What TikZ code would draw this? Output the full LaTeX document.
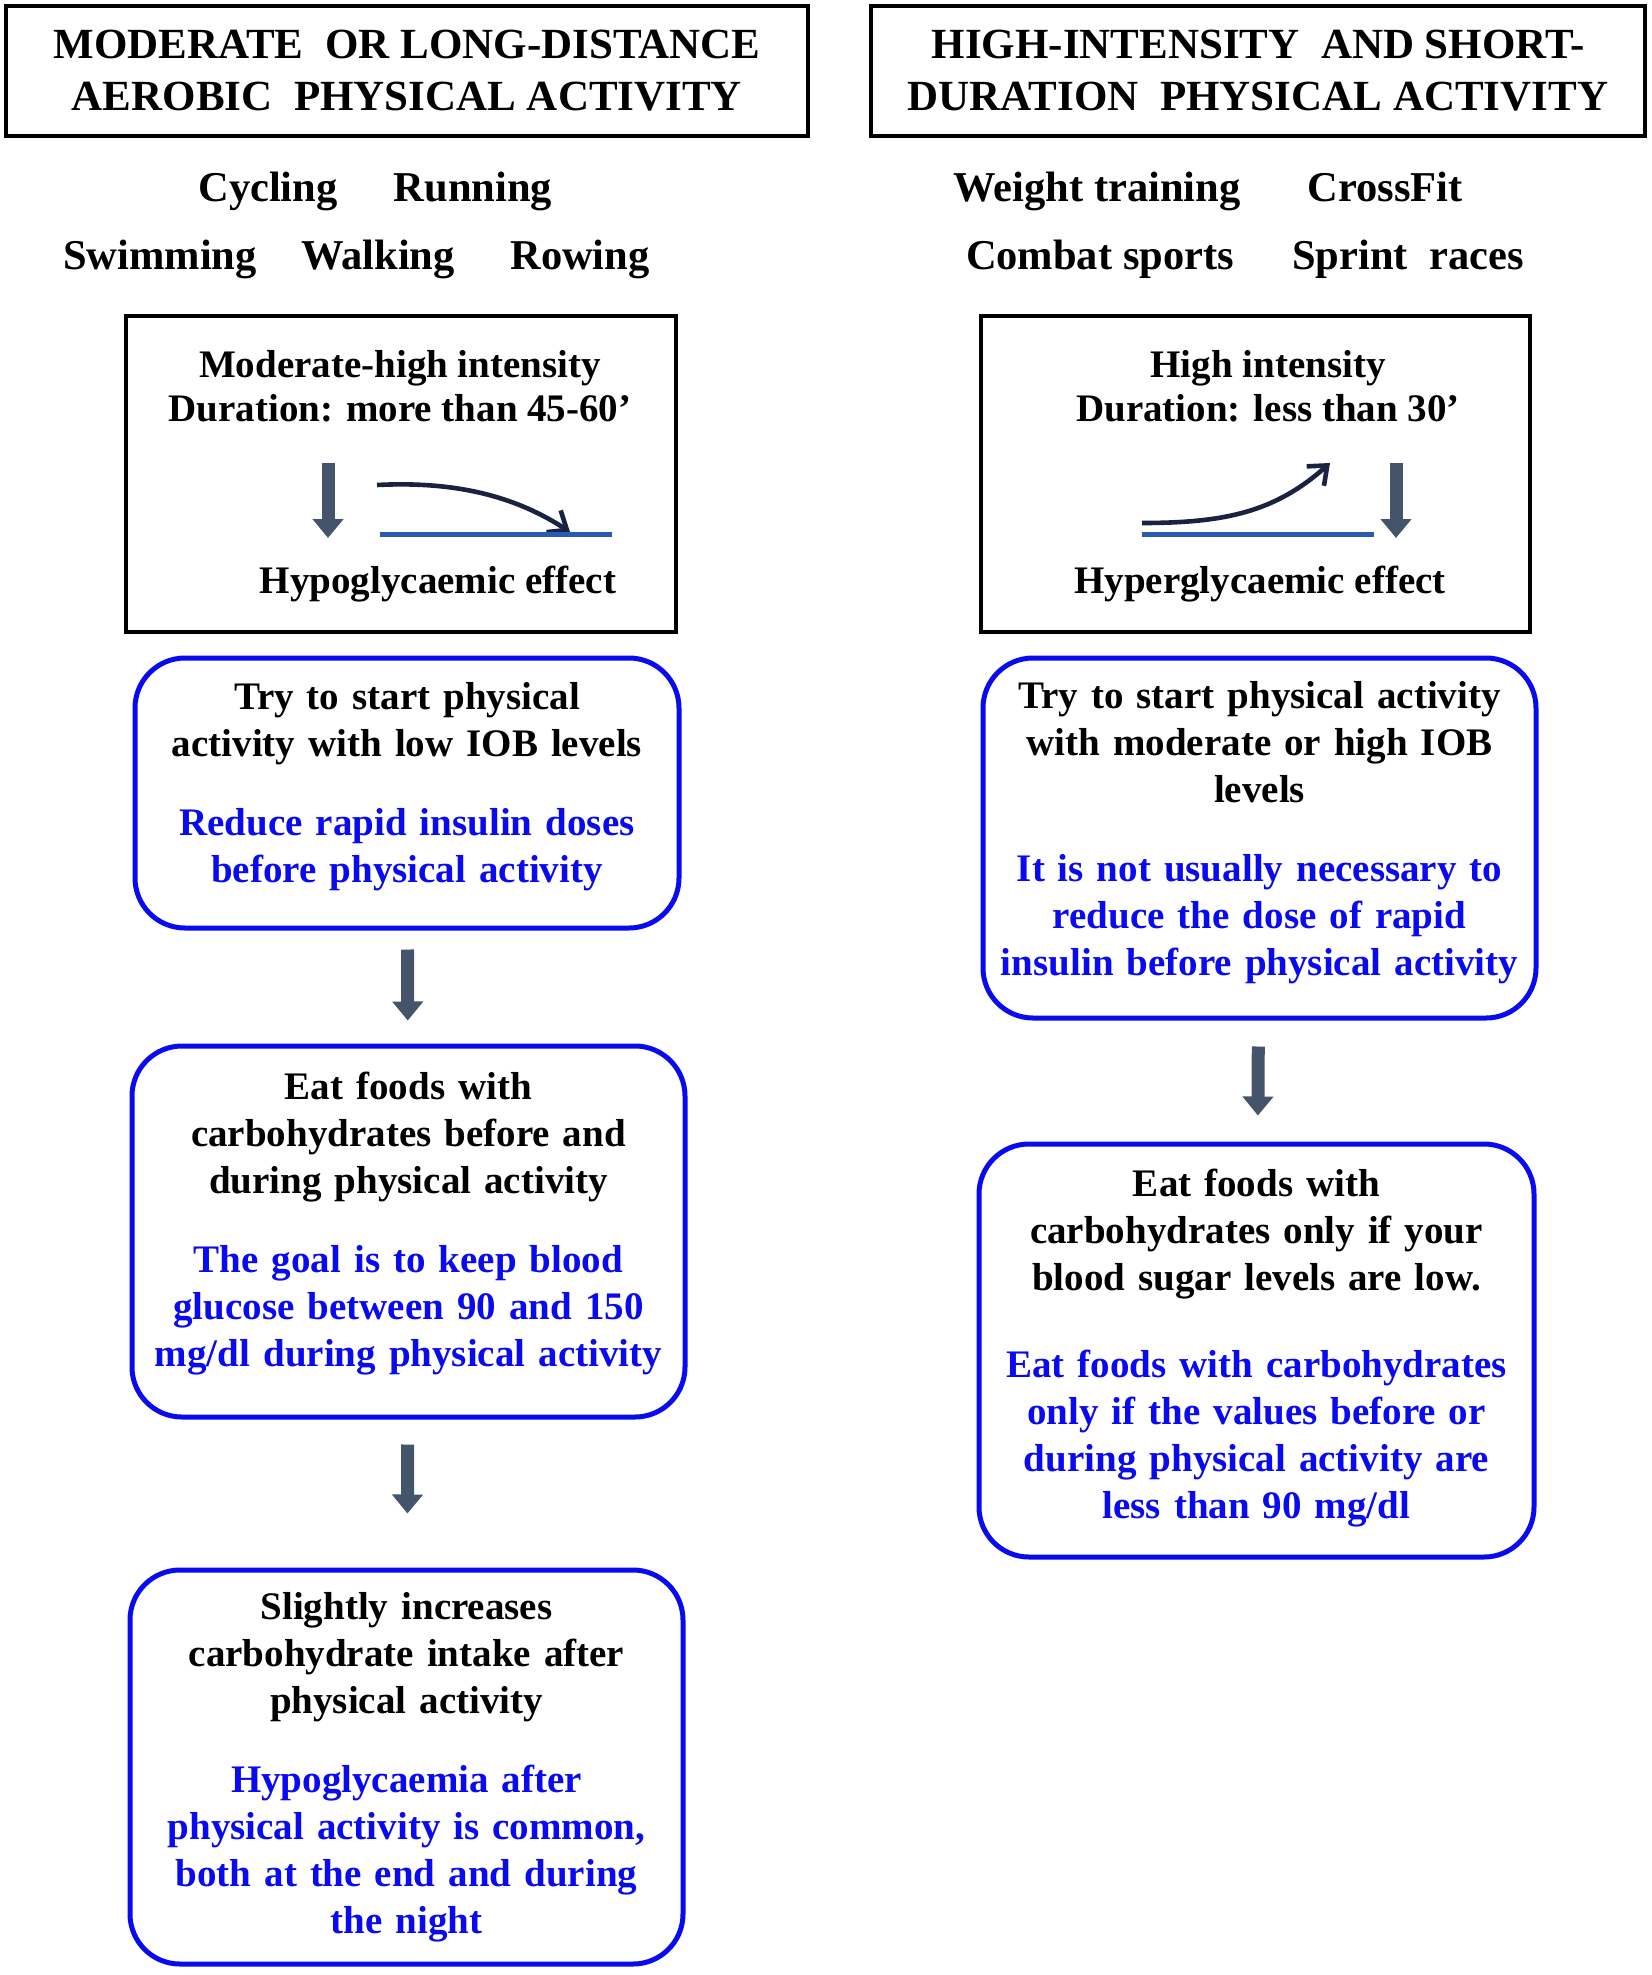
\documentclass[tikz,border=0pt]{standalone}
\usepackage{fontspec}
\setmainfont{Liberation Serif}
\usetikzlibrary{arrows.meta}

\definecolor{advblue}{RGB}{10,10,240}
\definecolor{flowgrey}{RGB}{68,84,106}
\definecolor{curvenavy}{RGB}{25,35,65}
\definecolor{levelblue}{RGB}{40,90,180}

\tikzset{every picture/.style={line width=0.75pt},
  titlebox/.style={draw, line width=2pt, minimum height=65pt, align=center, inner sep=0pt,
    font=\bfseries\fontsize{21.5}{26}\selectfont},
  sport/.style={anchor=base, inner sep=0pt, font=\bfseries\fontsize{21.25}{25}\selectfont},
  effectbox/.style={draw, line width=2pt, minimum width=275pt, minimum height=158pt, inner sep=0pt},
  effecttext/.style={align=center, inner sep=0pt, font=\bfseries\fontsize{19.5}{22}\selectfont},
  advicebox/.style={draw=advblue, line width=2.5pt, rounded corners=25pt, align=center,
    text width=268pt, inner sep=0pt, minimum width=276.5pt,
    font=\bfseries\fontsize{19.5}{23.5}\selectfont},
  stepflow/.style={draw=flowgrey, line width=6.5pt, -{Triangle[width=15pt,length=9.5pt]}},
  curvearrow/.style={draw=curvenavy, line width=2.3pt, -{Straight Barb[length=8pt,width=13pt]}},
  glucoseline/.style={draw=levelblue, line width=2.5pt}
}

\begin{document}
\begin{tikzpicture}[x=0.5pt,y=0.5pt,yscale=-1,xscale=1]
\useasboundingbox (0,0) rectangle (1652,1975);

% Title Boxes
\node[titlebox, minimum width=401pt] (aerobictitle) at (407,71) {MODERATE\ \ OR LONG-DISTANCE\\AEROBIC\ \ PHYSICAL ACTIVITY};
\node[titlebox, minimum width=387pt] (intensetitle) at (1258,71) {HIGH-INTENSITY\ \ AND SHORT-\\DURATION\ \ PHYSICAL ACTIVITY};

% Sports
\node[sport] (cycling) at (268,201) {Cycling};
\node[sport] (running) at (473,201) {Running};
\node[sport] (swimming) at (160,269) {Swimming};
\node[sport] (walking) at (378,269) {Walking};
\node[sport] (rowing) at (580,269) {Rowing};
\node[sport] (weights) at (1097,201) {Weight training};
\node[sport] (crossfit) at (1385,201) {CrossFit};
\node[sport] (combat) at (1100,269) {Combat sports};
\node[sport] (sprint) at (1408,269) {Sprint\ \ races};

% Effect Boxes
\node[effectbox] (aerobiceffect) at (401,474) {};
\node[effectbox, minimum width=274.5pt] (intenseeffect) at (1255.5,474) {};
\node[effecttext] (aerobicload) at (400,386) {Moderate-high intensity\\Duration: more than 45-60’};
\node[effecttext] (aerobicresult) at (438,584) {Hypoglycaemic effect};
\node[effecttext] (intenseload) at (1268,386) {High intensity\\Duration: less than 30’};
\node[effecttext] (intenseresult) at (1260,584) {Hyperglycaemic effect};

%Shape: glucose icons
\draw[stepflow] (328,463) -- (328,538);
\draw[curvearrow] (377,485) .. controls (455,481) and (515,496) .. (570,532);
\draw[glucoseline] (380,534) -- (612,534);
\draw[curvearrow] (1142,523) .. controls (1225,523) and (1275,512) .. (1330,463);
\draw[glucoseline] (1142,534) -- (1374,534);
\draw[stepflow] (1396,463) -- (1396,538);

% Advice Boxes
\node[advicebox, minimum width=272pt, minimum height=135pt] (aerobicstart) at (407,793) {Try to start physical\\activity with low IOB levels\\[16pt]\color{advblue}Reduce rapid insulin doses\\before physical activity\par\vspace*{6pt}};
\node[advicebox, minimum height=185.5pt] (aerobicfood) at (408.5,1231.5) {Eat foods with\\carbohydrates before and\\during physical activity\\[16pt]\color{advblue}The goal is to keep blood\\glucose between 90 and 150\\mg/dl during physical activity\par\vspace*{8pt}};
\node[advicebox, minimum height=197pt] (aerobicafter) at (406.5,1767) {Slightly increases\\carbohydrate intake after\\physical activity\\[16pt]\color{advblue}Hypoglycaemia after\\physical activity is common,\\both at the end and during\\the night};
\node[advicebox, minimum height=180pt] (intensestart) at (1259.5,838) {Try to start physical activity\\with moderate or high IOB\\levels\\[16pt]\color{advblue}It is not usually necessary to\\reduce the dose of rapid\\insulin before physical activity\par\vspace*{5pt}};
\node[advicebox, minimum width=277.5pt, minimum height=206.5pt] (intensefood) at (1256.5,1350.5) {Eat foods with\\carbohydrates only if your\\blood sugar levels are low.\\[20pt]\color{advblue}Eat foods with carbohydrates\\only if the values before or\\during physical activity are\\less than 90 mg/dl\par\vspace*{2pt}};

% Flow Arrows
\draw[stepflow, shorten <=9.5pt, shorten >=11.5pt] (aerobicstart) -- (aerobicfood);
\draw[stepflow, shorten <=12.5pt, shorten >=27pt] (aerobicfood) -- (aerobicafter);
\draw[stepflow, shorten <=13pt, shorten >=13pt] (intensestart) -- (intensefood);

\end{tikzpicture}
\end{document}
